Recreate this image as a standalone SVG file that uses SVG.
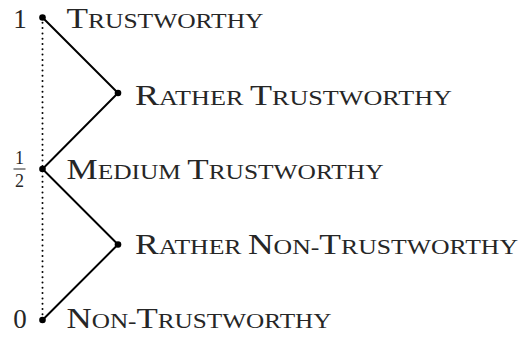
<svg xmlns="http://www.w3.org/2000/svg" width="523" height="338" viewBox="0 0 523 338">
<style>
.t{font-family:"Liberation Serif","DejaVu Serif",serif;fill:#262626}
.c{font-size:29px}
.s{font-size:21px}
.dot{fill:#000}
.edge{stroke:#000;stroke-width:2;fill:none;stroke-linecap:round}
.axis{stroke:#000;stroke-width:2;fill:none;stroke-linecap:round;stroke-dasharray:0 5.3}
</style>
<rect width="523" height="338" fill="#fff"/>
<g id="connectors">
<line class="axis" x1="42.5" y1="22.8" x2="42.5" y2="318"/>
<polyline class="edge" points="42.5,17.5 118,93 42.5,169 118,244.5 42.5,320"/>
</g>
<g id="axis-labels">
<text class="t" x="20" y="27.5" font-size="27" text-anchor="middle">1</text>
<text class="t" x="19.5" y="164" font-size="18" text-anchor="middle">1</text>
<line x1="13.5" y1="169" x2="25.5" y2="169" stroke="#262626" stroke-width="1"/>
<text class="t" x="19.5" y="187" font-size="18" text-anchor="middle">2</text>
<text class="t" x="20" y="327.5" font-size="27" text-anchor="middle">0</text>
</g>
<g id="trustworthy">
<circle class="dot" cx="42.5" cy="17.5" r="3.3"/>
<text class="t" x="66.5" y="27.5" textLength="197" lengthAdjust="spacingAndGlyphs"><tspan class="c">T</tspan><tspan class="s">RUSTWORTHY</tspan></text>
</g>
<g id="rather-trustworthy">
<circle class="dot" cx="118" cy="93" r="3.3"/>
<text class="t" x="135" y="104.5" textLength="317" lengthAdjust="spacingAndGlyphs"><tspan class="c">R</tspan><tspan class="s">ATHER </tspan><tspan class="c">T</tspan><tspan class="s">RUSTWORTHY</tspan></text>
</g>
<g id="medium-trustworthy">
<circle class="dot" cx="42.5" cy="169" r="3.3"/>
<text class="t" x="66.5" y="178.8" textLength="317" lengthAdjust="spacingAndGlyphs"><tspan class="c">M</tspan><tspan class="s">EDIUM </tspan><tspan class="c">T</tspan><tspan class="s">RUSTWORTHY</tspan></text>
</g>
<g id="rather-non-trustworthy">
<circle class="dot" cx="118" cy="244.5" r="3.3"/>
<text class="t" x="135" y="254.3" textLength="383" lengthAdjust="spacingAndGlyphs"><tspan class="c">R</tspan><tspan class="s">ATHER </tspan><tspan class="c">N</tspan><tspan class="s">ON-</tspan><tspan class="c">T</tspan><tspan class="s">RUSTWORTHY</tspan></text>
</g>
<g id="non-trustworthy">
<circle class="dot" cx="42.5" cy="320" r="3.3"/>
<text class="t" x="66.5" y="327.5" textLength="265" lengthAdjust="spacingAndGlyphs"><tspan class="c">N</tspan><tspan class="s">ON-</tspan><tspan class="c">T</tspan><tspan class="s">RUSTWORTHY</tspan></text>
</g>
</svg>
